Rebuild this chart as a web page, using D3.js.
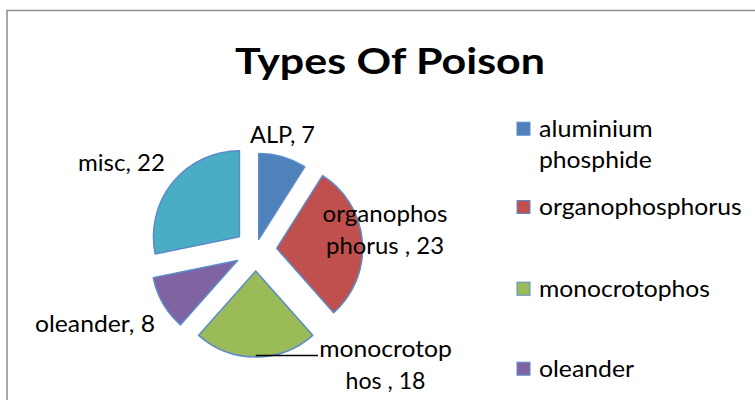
<!DOCTYPE html>
<html>
<head>
<meta charset="utf-8">
<script src="https://cdn.jsdelivr.net/npm/d3@7"></script>
<style>
  body { margin: 0; background: #fff; }
  text { font-family: Lato, "Open Sans", sans-serif; fill: #000; }
</style>
</head>
<body>
<script>
// chart values
const categories = ["aluminium phosphide", "organophosphorus", "monocrotophos", "oleander", "misc"];
const labelNames = ["ALP", "organophosphorus ", "monocrotophos ", "oleander", "misc"];
const values = [7, 23, 18, 8, 22];
const colors = ["#4F81BD", "#C0504D", "#9BBB59", "#8064A2", "#4BACC6"];

const width = 755;
const height = 400;
const cx = 255.7, cy = 250, radius = 86;
const explode = [11, 21, 21, 21, 21];

// where excel put the data labels (center x, first baseline, text widths)
const labelPos = [
    {x: 282.5, y: 143.3, w: [65]},
    {x: 385, y: 222, w: [125, 118]},
    {x: 385.5, y: 356.7, w: [132.7, 80]},
    {x: 95, y: 331.7, w: [120]},
    {x: 121.5, y: 170.5, w: [87]}
];
const legendY = [136.7, 215, 296.7, 376.7, 456.7];
const legendW = [[113.7, 112.7], [202.7], [171], [95], [52]];

const svg = d3.select("body")
              .append("svg")
              .attr("width", width)
              .attr("height", height);

// chart area border (cropped on right and bottom)
svg.append("rect")
   .attr("x", 7)
   .attr("y", 10.5)
   .attr("width", 900)
   .attr("height", 600)
   .attr("fill", "none")
   .attr("stroke", "#8f8f8f")
   .attr("stroke-width", 1.5);

svg.append("text")
   .attr("x", 390)
   .attr("y", 74)
   .attr("text-anchor", "middle")
   .attr("font-size", 36)
   .attr("font-weight", "bold")
   .attr("textLength", 310)
   .attr("lengthAdjust", "spacingAndGlyphs")
   .text("Types Of Poison");

const pie = d3.pie().sort(null).value(d => d)(values);
const arc = d3.arc().innerRadius(0).outerRadius(radius);
const mid = d => (d.startAngle + d.endAngle) / 2;

const slices = svg.append("g").attr("transform", "translate(" + cx + "," + cy + ")");

slices.selectAll("path")
      .data(pie)
      .enter()
      .append("path")
      .attr("d", arc)
      .attr("transform", (d, i) => "translate(" + (Math.sin(mid(d)) * explode[i]) + "," + (-Math.cos(mid(d)) * explode[i]) + ")")
      .attr("fill", (d, i) => colors[i])
      .attr("stroke", "#5B8BC9")
      .attr("stroke-width", 1.5)
      .attr("stroke-linejoin", "round");

// leader line for monocrotophos
const mono = pie[2];
const mx = cx + Math.sin(mid(mono)) * (explode[2] + radius);
const my = cy - Math.cos(mid(mono)) * (explode[2] + radius);
svg.append("line")
   .attr("x1", mx)
   .attr("y1", my - 1.5)
   .attr("x2", 318)
   .attr("y2", my - 1.5)
   .attr("stroke", "#000")
   .attr("stroke-width", 1.5);

// data labels
function wrap(s) {
    if (s.length <= 12) return [s];
    return [s.slice(0, 10), s.slice(10)];
}
values.forEach((v, i) => {
    const lines = wrap(labelNames[i] + ", " + v);
    lines.forEach((ln, j) => {
        svg.append("text")
           .attr("x", labelPos[i].x)
           .attr("y", labelPos[i].y + j * 32)
           .attr("text-anchor", "middle")
           .attr("font-size", 23)
           .attr("textLength", labelPos[i].w[j])
           .attr("lengthAdjust", "spacingAndGlyphs")
           .text(ln);
    });
});

// legend (the last entry falls below the cropped picture, so skip it)
const legend = svg.append("g");
categories.forEach((c, i) => {
    if (legendY[i] - 16 > height) return;
    legend.append("rect")
          .attr("x", 517)
          .attr("y", legendY[i] - 14.5)
          .attr("width", 13)
          .attr("height", 13)
          .attr("fill", colors[i])
          .attr("stroke", "#5B8BC9")
          .attr("stroke-width", 1);
    const lines = c == "aluminium phosphide" ? ["aluminium", "phosphide"] : [c];
    lines.forEach((ln, j) => {
        legend.append("text")
              .attr("x", 539)
              .attr("y", legendY[i] + j * 31.6)
              .attr("font-size", 23)
              .attr("textLength", legendW[i][j])
              .attr("lengthAdjust", "spacingAndGlyphs")
              .text(ln);
    });
});
</script>
</body>
</html>
